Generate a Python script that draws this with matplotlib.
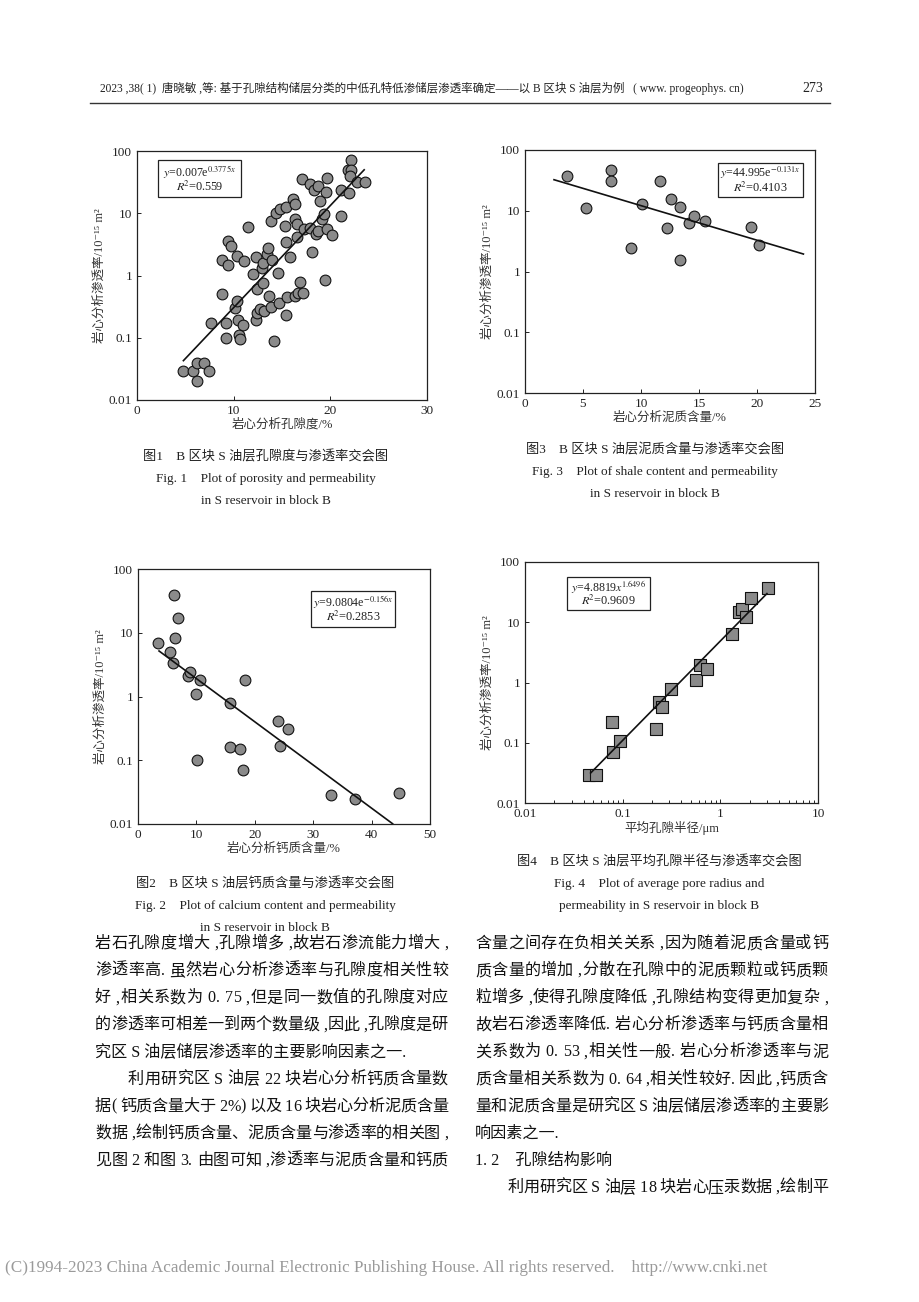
import numpy as np
import matplotlib
matplotlib.use("Agg")
import matplotlib.pyplot as plt
from matplotlib.patches import Rectangle
from matplotlib.ticker import FixedLocator, FixedFormatter, NullLocator, LogLocator

plt.rcParams['mathtext.fontset'] = 'stix'
plt.rcParams['font.family'] = ['Liberation Serif', 'Noto Sans CJK SC', 'DejaVu Sans']

# ---------------- data ----------------
# Fig.1 porosity (%) vs permeability
por_x = [4.8, 5.8, 6.2, 6.9, 6.2, 7.5, 7.7, 8.8, 8.8, 9.2, 9.2, 9.4, 9.4, 9.7, 10.1, 10.3, 10.3,
         10.5, 10.6, 10.7, 11.0, 11.1, 11.5, 12.0, 12.3, 12.3, 12.4, 12.4, 12.7, 12.9, 13.0, 13.0,
         13.1, 13.4, 13.5, 13.9, 14.0, 13.7, 13.9, 14.2, 14.4, 14.6, 14.8, 14.7, 15.4, 15.3, 15.4,
         15.5, 15.4, 15.8, 16.1, 16.3, 16.3, 16.6, 16.5, 16.3, 16.7, 16.9, 17.2, 17.1, 17.3, 17.9,
         17.9, 18.1, 18.3, 18.5, 18.7, 18.7, 18.9, 19.1, 19.3, 19.4, 19.6, 19.7, 19.7, 20.2, 21.1,
         21.1, 21.8, 21.95, 22.1, 22.1, 22.05, 22.8, 23.6]
por_k = [0.029, 0.029, 0.039, 0.039, 0.020, 0.029, 0.17, 1.75, 0.50, 0.17, 0.098, 1.46, 3.55, 3.0,
         0.30, 0.39, 2.09, 0.19, 0.11, 0.095, 0.16, 1.7, 6.0, 1.07, 2.0, 0.19, 0.6, 0.25, 0.29, 1.3,
         1.6, 0.76, 0.27, 2.2, 2.8, 7.4, 1.8, 0.47, 0.31, 0.088, 10.0, 1.1, 11.5, 0.36, 12.5, 6.3,
         3.4, 0.45, 0.23, 2.0, 16.7, 14.0, 8.1, 6.8, 4.2, 0.47, 0.53, 0.78, 0.52, 36, 5.5, 29, 5.8,
         2.4, 24, 4.6, 27, 5.1, 16, 8.1, 9.8, 0.86, 22, 37, 5.5, 4.5, 24, 9.0, 49, 21, 72, 49, 40,
         32, 32]
por_fit_a, por_fit_b = 0.007, 0.3775
por_fit_range = (4.8, 23.5)

# Fig.3 shale content (%) vs permeability
sh_x = [3.6, 5.3, 7.4, 7.4, 9.1, 10.1, 11.6, 12.2, 12.6, 13.4, 13.4, 14.1, 14.6, 15.5, 19.5, 20.2]
sh_k = [37, 11.3, 47, 31, 2.4, 13.1, 31, 5.2, 15.5, 11.4, 1.53, 6.4, 8.3, 6.8, 5.4, 2.75]
sh_fit_a, sh_fit_b = 44.995, -0.131
sh_fit_range = (2.5, 24.0)

# Fig.2 calcium content (%) vs permeability
ca_x = [3.5, 5.4, 6.0, 6.1, 6.3, 6.9, 8.6, 8.9, 10.6, 9.9, 10.1, 15.7, 15.8, 17.4, 18.0, 18.4,
        24.0, 24.3, 25.7, 33.0, 37.1, 44.7]
ca_k = [7.0, 4.95, 3.4, 38.7, 8.2, 16.9, 2.06, 2.4, 1.83, 1.10, 0.10, 0.79, 0.16, 0.15, 0.070,
        1.8, 0.41, 0.17, 0.31, 0.029, 0.025, 0.031]
ca_fit_a, ca_fit_b = 9.0804, -0.156
ca_fit_range = (3.6, 43.6)

# Fig.4 average pore radius (um) vs permeability
pr_r = [0.0455, 0.0533, 0.0788, 0.0776, 0.0937, 0.217, 0.235, 0.254, 0.314, 0.557, 0.617, 0.733,
        1.31, 1.56, 1.68, 1.82, 2.08, 3.08]
pr_k = [0.0295, 0.0295, 0.069, 0.218, 0.108, 0.171, 0.48, 0.39, 0.78, 1.10, 1.98, 1.67, 6.46,
        14.8, 16.4, 12.1, 24.9, 36.5]
pr_fit_a, pr_fit_b = 4.8819, 1.6496
pr_fit_range = (0.047, 3.0)

y_ticks = [0.01, 0.1, 1, 10, 100]
y_ticklabels = ['0.01', '0.1', '1', '10', '100']

# ---------------- figure ----------------
W, H = 920, 1302
fig = plt.figure(figsize=(W / 100, H / 100), dpi=100)
CJK = ['Liberation Serif', 'Noto Sans CJK SC', 'DejaVu Sans']


def rect(l, r, t, b):
    return [l / W, 1 - b / H, (r - l) / W, (b - t) / H]


def fx(x):
    return x / W


def fy(y):
    return 1 - y / H


def style_axes(ax, xlim, xticks, xlabels, xlabel, logx=False):
    ax.set_yscale('log')
    if logx:
        ax.set_xscale('log')
    ax.set_xlim(*xlim)
    ax.set_ylim(0.01, 100)
    ax.yaxis.set_major_locator(FixedLocator(y_ticks))
    ax.yaxis.set_major_formatter(FixedFormatter(y_ticklabels))
    ax.yaxis.set_minor_locator(NullLocator())
    ax.xaxis.set_major_locator(FixedLocator(xticks))
    ax.xaxis.set_major_formatter(FixedFormatter(xlabels))
    if logx:
        ax.xaxis.set_minor_locator(LogLocator(base=10, subs=np.arange(2, 10)))
    else:
        ax.xaxis.set_minor_locator(NullLocator())
    ax.tick_params(which='both', direction='in', colors='#222222', labelsize=9.5,
                   length=3, width=0.7)
    ax.tick_params(which='minor', length=2)
    for lab in ax.get_xticklabels() + ax.get_yticklabels():
        lab.set_family('Liberation Serif')
    for s in ax.spines.values():
        s.set_linewidth(0.9)
        s.set_color('#222222')
    ax.set_xlabel(xlabel, family=CJK, fontsize=9, color='#333333', labelpad=1)
    ax.set_ylabel('岩心分析渗透率/10⁻¹⁵ m²', family=CJK, fontsize=9, color='#333333', labelpad=2)


def eq_box(ax, x0, x1, y0, y1, line1, line2):
    ax.add_patch(Rectangle((x0, y0), x1 - x0, y1 - y0, transform=ax.transAxes,
                           fill=False, lw=0.9, ec='#222222', zorder=5))
    xm = (x0 + x1) / 2
    h = y1 - y0
    ax.text(xm, y0 + 0.70 * h, line1, transform=ax.transAxes, ha='center', va='center',
            fontsize=8.6, color='#222222', zorder=6)
    ax.text(xm, y0 + 0.28 * h, line2, transform=ax.transAxes, ha='center', va='center',
            fontsize=8.8, color='#222222', zorder=6)


mk = dict(facecolor='#8a8a8a', edgecolor='#111111', linewidths=0.8, zorder=3)

# Fig 1
ax1 = fig.add_axes(rect(137, 427, 151, 400))
ax1.scatter(por_x, por_k, s=60, marker='o', **mk)
xx = np.linspace(*por_fit_range, 100)
ax1.plot(xx, por_fit_a * np.exp(por_fit_b * xx), color='#111111', lw=1.2, zorder=4)
style_axes(ax1, (0, 30), [0, 10, 20, 30], ['0', '10', '20', '30'], '岩心分析孔隙度/%')
eq_box(ax1, 0.072, 0.36, 0.815, 0.964, r'$y$=0.007e$^{0.3775x}$', r'$R$$^2$=0.559')

# Fig 3
ax3 = fig.add_axes(rect(525, 815, 150, 393))
ax3.scatter(sh_x, sh_k, s=60, marker='o', **mk)
xx = np.linspace(*sh_fit_range, 100)
ax3.plot(xx, sh_fit_a * np.exp(sh_fit_b * xx), color='#111111', lw=1.2, zorder=4)
style_axes(ax3, (0, 25), [0, 5, 10, 15, 20, 25], ['0', '5', '10', '15', '20', '25'],
           '岩心分析泥质含量/%')
eq_box(ax3, 0.666, 0.959, 0.807, 0.947, r'$y$=44.995e$^{-0.131x}$', r'$R$$^2$=0.4103')

# Fig 2
ax2 = fig.add_axes(rect(138, 430, 569, 824))
ax2.scatter(ca_x, ca_k, s=60, marker='o', **mk)
xx = np.linspace(*ca_fit_range, 100)
ax2.plot(xx, ca_fit_a * np.exp(ca_fit_b * xx), color='#111111', lw=1.2, zorder=4)
style_axes(ax2, (0, 50), [0, 10, 20, 30, 40, 50], ['0', '10', '20', '30', '40', '50'],
           '岩心分析钙质含量/%')
eq_box(ax2, 0.592, 0.88, 0.773, 0.914, r'$y$=9.0804e$^{-0.156x}$', r'$R$$^2$=0.2853')

# Fig 4
ax4 = fig.add_axes(rect(525, 818, 562, 803))
ax4.scatter(pr_r, pr_k, s=66, marker='s', **mk)
xx = np.logspace(np.log10(pr_fit_range[0]), np.log10(pr_fit_range[1]), 100)
ax4.plot(xx, pr_fit_a * xx ** pr_fit_b, color='#111111', lw=1.2, zorder=4)
style_axes(ax4, (0.01, 10), [0.01, 0.1, 1, 10], ['0.01', '0.1', '1', '10'],
           '平均孔隙半径/μm', logx=True)
eq_box(ax4, 0.143, 0.427, 0.801, 0.938, r'$y$=4.8819$x$$^{1.6496}$', r'$R$$^2$=0.9609')

# ---------------- header ----------------
fig.text(fx(100), fy(88), '2023 ,38( 1)  唐晓敏 ,等: 基于孔隙结构储层分类的中低孔特低渗储层渗透率确定——以 B 区块 S 油层为例   ( www. progeophys. cn)',
         family=CJK, fontsize=8.3, color='#222222', va='center', ha='left')
fig.text(fx(823), fy(88), '273', family='Liberation Serif', fontsize=10, color='#222222',
         va='center', ha='right')
fig.add_artist(plt.Line2D([fx(90), fx(830)], [fy(103), fy(103)], color='#333333', lw=1.0))

# ---------------- captions ----------------
cap_kw = dict(ha='center', va='center', color='#222222')


def caption(xc, y1, cn, en1, en2):
    fig.text(fx(xc), fy(y1), cn, family=CJK, fontsize=9.5, **cap_kw)
    fig.text(fx(xc), fy(y1 + 22), en1, family='Liberation Serif', fontsize=9.5, **cap_kw)
    fig.text(fx(xc), fy(y1 + 44), en2, family='Liberation Serif', fontsize=9.5, **cap_kw)


caption(266, 457, '图1　B 区块 S 油层孔隙度与渗透率交会图',
        'Fig. 1    Plot of porosity and permeability', 'in S reservoir in block B')
caption(655, 450, '图3　B 区块 S 油层泥质含量与渗透率交会图',
        'Fig. 3    Plot of shale content and permeability', 'in S reservoir in block B')
caption(265, 884, '图2　B 区块 S 油层钙质含量与渗透率交会图',
        'Fig. 2    Plot of calcium content and permeability', 'in S reservoir in block B')
caption(659, 862, '图4　B 区块 S 油层平均孔隙半径与渗透率交会图',
        'Fig. 4    Plot of average pore radius and', 'permeability in S reservoir in block B')

# ---------------- body text ----------------
left_lines = [
    '岩石孔隙度增大 ,孔隙增多 ,故岩石渗流能力增大 ,',
    '渗透率高. 虽然岩心分析渗透率与孔隙度相关性较',
    '好 ,相关系数为 0. 75 ,但是同一数值的孔隙度对应',
    '的渗透率可相差一到两个数量级 ,因此 ,孔隙度是研',
    '究区 S 油层储层渗透率的主要影响因素之一.',
    '　　利用研究区 S 油层 22 块岩心分析钙质含量数',
    '据( 钙质含量大于 2%) 以及 16 块岩心分析泥质含量',
    '数据 ,绘制钙质含量、泥质含量与渗透率的相关图 ,',
    '见图 2 和图 3. 由图可知 ,渗透率与泥质含量和钙质',
]
left_justify = [True, True, True, True, False, True, True, True, True]
right_lines = [
    '含量之间存在负相关关系 ,因为随着泥质含量或钙',
    '质含量的增加 ,分散在孔隙中的泥质颗粒或钙质颗',
    '粒增多 ,使得孔隙度降低 ,孔隙结构变得更加复杂 ,',
    '故岩石渗透率降低. 岩心分析渗透率与钙质含量相',
    '关系数为 0. 53 ,相关性一般. 岩心分析渗透率与泥',
    '质含量相关系数为 0. 64 ,相关性较好. 因此 ,钙质含',
    '量和泥质含量是研究区 S 油层储层渗透率的主要影',
    '响因素之一.',
    '1. 2　孔隙结构影响',
    '　　利用研究区 S 油层 18 块岩心压汞数据 ,绘制平',
]
right_justify = [True, True, True, True, True, True, True, False, False, True]

renderer = fig.canvas.get_renderer()
body_kw = dict(family=CJK, fontsize=11.6, color='#111111', va='center', ha='left')
_probe = fig.text(0, 0, '', **body_kw)


def tw(s):
    _probe.set_text(s)
    return _probe.get_window_extent(renderer).width


w_bar = tw('I')


def draw_line(x0, x1, y, s, justify):
    if not justify:
        fig.text(fx(x0), fy(y), s, **body_kw)
        return
    n = len(s)
    offs = [0.0] + [tw(s[:i] + 'I') - w_bar for i in range(1, n)]
    natural = tw(s)
    gap = (x1 - x0 - natural) / (n - 1)
    for i, c in enumerate(s):
        if c in (' ', '　'):
            continue
        fig.text(fx(x0 + offs[i] + i * gap), fy(y), c, **body_kw)


for i, s in enumerate(left_lines):
    draw_line(95, 448, 944 + i * 27.1, s, left_justify[i])
for i, s in enumerate(right_lines):
    draw_line(475, 828, 944 + i * 27.1, s, right_justify[i])
_probe.remove()

# ---------------- footer ----------------
fig.text(fx(5), fy(1268), '(C)1994-2023 China Academic Journal Electronic Publishing House. All rights reserved.    http://www.cnki.net',
         family='Liberation Serif', fontsize=12.3, color='#9a9a9a', va='center', ha='left')

fig.savefig('out.png', dpi=100)
